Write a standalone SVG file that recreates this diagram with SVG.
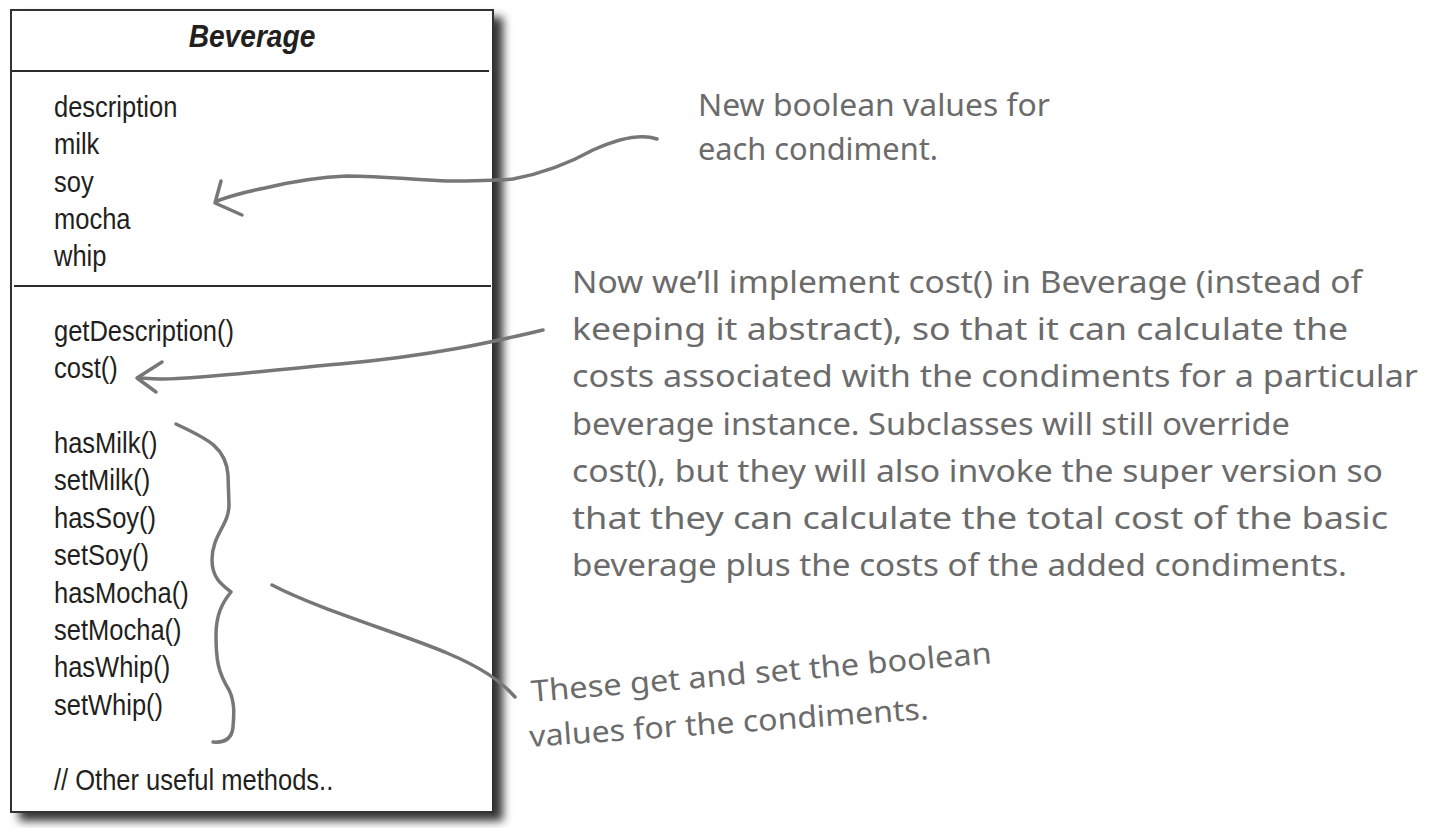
<svg xmlns="http://www.w3.org/2000/svg" width="1430" height="828" viewBox="0 0 1430 828">
<style>
.uml{font-family:"Liberation Sans",Arial,sans-serif;font-size:29px;fill:#231f20}
.title{font-family:"Liberation Sans",Arial,sans-serif;font-size:32px;font-weight:bold;font-style:italic;fill:#231f20}
.note{font-family:"Noto Sans","Open Sans",sans-serif;font-size:30px;fill:#6b6b6b}
.conn{fill:none;stroke:#777;stroke-width:3.5;stroke-linecap:round;stroke-linejoin:round}
.div{stroke:#2b2b2b;stroke-width:2.2}
</style>
<defs>
<filter id="sh" x="-5%" y="-5%" width="115%" height="115%">
<feGaussianBlur in="SourceAlpha" stdDeviation="5"/>
<feOffset dx="9" dy="8" result="o"/>
<feComponentTransfer><feFuncA type="linear" slope="0.8"/></feComponentTransfer>
<feMerge><feMergeNode/><feMergeNode in="SourceGraphic"/></feMerge>
</filter>
</defs>
<rect width="1430" height="828" fill="#fff"/>
<g id="beverage">
<rect x="11" y="10" width="482" height="802" fill="#fff" stroke="#333" stroke-width="2" filter="url(#sh)"/>
<line class="div" x1="12" y1="71" x2="489" y2="71"/>
<line class="div" x1="14" y1="286" x2="491" y2="286"/>
<g transform="translate(252,0) scale(0.88,1)"><text class="title" x="0" y="47" text-anchor="middle">Beverage</text></g>
<g transform="translate(54,0) scale(0.88,1)">
<text class="uml" x="0" y="117">description</text>
<text class="uml" x="0" y="154">milk</text>
<text class="uml" x="0" y="192">soy</text>
<text class="uml" x="0" y="229">mocha</text>
<text class="uml" x="0" y="266">whip</text>
<text class="uml" x="0" y="341">getDescription()</text>
<text class="uml" x="0" y="378">cost()</text>
<text class="uml" x="0" y="453">hasMilk()</text>
<text class="uml" x="0" y="490">setMilk()</text>
<text class="uml" x="0" y="528">hasSoy()</text>
<text class="uml" x="0" y="565">setSoy()</text>
<text class="uml" x="0" y="603">hasMocha()</text>
<text class="uml" x="0" y="640">setMocha()</text>
<text class="uml" x="0" y="677">hasWhip()</text>
<text class="uml" x="0" y="715">setWhip()</text>
<text class="uml" x="0" y="790">// Other useful methods..</text>
</g>
</g>
<g id="note-boolean">
<text class="note" x="698" y="116" textLength="352" lengthAdjust="spacingAndGlyphs">New boolean values for</text>
<text class="note" x="698" y="160" textLength="240" lengthAdjust="spacingAndGlyphs">each condiment.</text>
</g>
<g id="note-cost">
<text class="note" x="572" y="293" textLength="790" lengthAdjust="spacingAndGlyphs">Now we’ll implement cost() in Beverage (instead of</text>
<text class="note" x="572" y="340" textLength="776" lengthAdjust="spacingAndGlyphs">keeping it abstract), so that it can calculate the</text>
<text class="note" x="572" y="387" textLength="846" lengthAdjust="spacingAndGlyphs">costs associated with the condiments for a particular</text>
<text class="note" x="572" y="435" textLength="718" lengthAdjust="spacingAndGlyphs">beverage instance. Subclasses will still override</text>
<text class="note" x="572" y="482" textLength="811" lengthAdjust="spacingAndGlyphs">cost(), but they will also invoke the super version so</text>
<text class="note" x="572" y="529" textLength="816" lengthAdjust="spacingAndGlyphs">that they can calculate the total cost of the basic</text>
<text class="note" x="572" y="576" textLength="775" lengthAdjust="spacingAndGlyphs">beverage plus the costs of the added condiments.</text>
</g>
<g id="note-getset">
<text class="note" x="532" y="702" transform="rotate(-4.8 532 702)" textLength="462" lengthAdjust="spacingAndGlyphs">These get and set the boolean</text>
<text class="note" x="530" y="747" transform="rotate(-4 530 747)" textLength="400" lengthAdjust="spacingAndGlyphs">values for the condiments.</text>
</g>
<g id="connectors">
<path class="conn" d="M657,139 C640,133 615,140 593,150 C575,160 550,172 513,179 C490,181 460,181 447,181 C420,180 380,176 347,176 C320,177 290,182 265,188 C245,192 230,196 217,201"/>
<path class="conn" d="M221,181 L215,203 L242,215"/>
<path class="conn" d="M543,330 C500,340 440,355 340,364 C260,371 190,380 160,379 C150,379 142,378 138,378"/>
<path class="conn" d="M162,362 L137,378 L156,392"/>
<path class="conn" d="M176,424 C205,438 226,446 228,475 L229,505 C229,525 212,535 212,560 C212,578 222,585 231,592 C222,603 216,615 216,635 C216,660 218,672 229,690 C235,702 234,715 233,727 C232,738 225,743 213,742"/>
<path class="conn" d="M272,585 C320,610 400,633 447,653 C480,667 500,680 515,697"/>
</g>
</svg>
